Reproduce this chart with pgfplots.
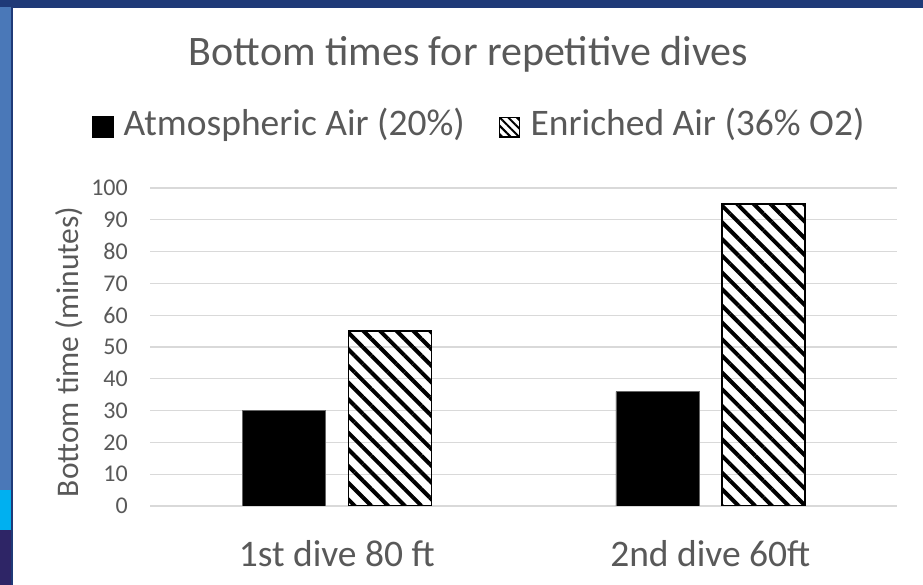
\documentclass[border=0pt]{standalone}
\usepackage{pgfplots}
\pgfplotsset{compat=1.18}
\usepackage{fontspec}
\setmainfont{Carlito}
\usetikzlibrary{patterns.meta}
\definecolor{txt}{HTML}{595959}
\definecolor{gridc}{HTML}{D9D9D9}
\definecolor{slideblue}{HTML}{4A78B8}
\definecolor{navy}{HTML}{1F3A78}
\definecolor{cyanband}{HTML}{00B0F0}
\definecolor{purpleband}{HTML}{2E2566}
\begin{document}
\begin{tikzpicture}[x=1pt,y=1pt]
\useasboundingbox (0,0) rectangle (923,585);
% slide background visible around the chart
\fill[slideblue] (0,0) rectangle (923,585);
\fill[cyanband] (0,55) rectangle (13,95);
\fill[purpleband] (0,0) rectangle (13,55);
\fill[navy] (0,578) rectangle (923,585);
\fill[white] (13,0) rectangle (923,578);
\draw[navy, line width=2pt] (12,0) -- (12,578) -- (923,578);
\begin{axis}[
  at={(150pt,79pt)}, anchor=south west,
  scale only axis, width=747pt, height=318pt,
  xmin=-0.5, xmax=1.5, ymin=0, ymax=100,
  xtick={0,1}, xticklabels={1st dive 80 ft, 2nd dive 60ft},
  ytick={0,10,...,100},
  /pgf/number format/assume math mode=true,
  ymajorgrids, grid style={gridc, line width=1.3pt},
  axis line style={draw=none}, major tick length=0pt,
  ybar, bar width=83pt,
  yticklabel style={font=\fontsize{24}{26}\selectfont, text=txt, anchor=east, inner sep=0pt, xshift=-22pt},
  xticklabel style={font=\fontsize{37.5}{40}\selectfont, text=txt, anchor=base, inner sep=0pt, yshift=-61pt},
  ylabel={Bottom time (minutes)},
  ylabel style={font=\fontsize{31.5}{34}\selectfont, text=txt, at={(axis description cs:-0.108,0.485)}, anchor=center},
  title={Bottom times for repetitive dives},
  title style={font=\fontsize{42}{44}\selectfont, text=txt, at={(axis description cs:0.4264,1.3648)}, anchor=base},
  legend columns=2,
  legend style={draw=none, fill=none, at={(axis description cs:-0.0776,1.2044)}, anchor=west,
    font=\fontsize{37.5}{40}\selectfont, text=txt, inner xsep=0pt, inner ysep=0pt,
    nodes={inner sep=0pt},
    /tikz/every odd column/.append style={column sep=10pt},
    /tikz/every even column/.append style={column sep=34pt}},
]
\addplot[fill=black, draw=black!60, bar shift=-53pt,
  legend image code/.code={\fill[black] (0pt,-15pt) rectangle (21pt,6pt);}]
  coordinates {(0,30) (1,36)};
\addlegendentry{Atmospheric Air (20\%)}
\addplot[draw=black, line width=1.5pt, bar shift=53pt,
  pattern={Lines[angle=-45, distance=11.8pt, line width=4pt]}, pattern color=black,
  legend image code/.code={\draw[black, line width=1.2pt, pattern={Lines[angle=-45, distance=6pt, line width=2pt]}, pattern color=black] (0.6pt,-14.4pt) rectangle (20.4pt,5.4pt);}]
  coordinates {(0,55) (1,95)};
\addlegendentry{Enriched Air (36\% O2)}
\end{axis}
\end{tikzpicture}
\end{document}
